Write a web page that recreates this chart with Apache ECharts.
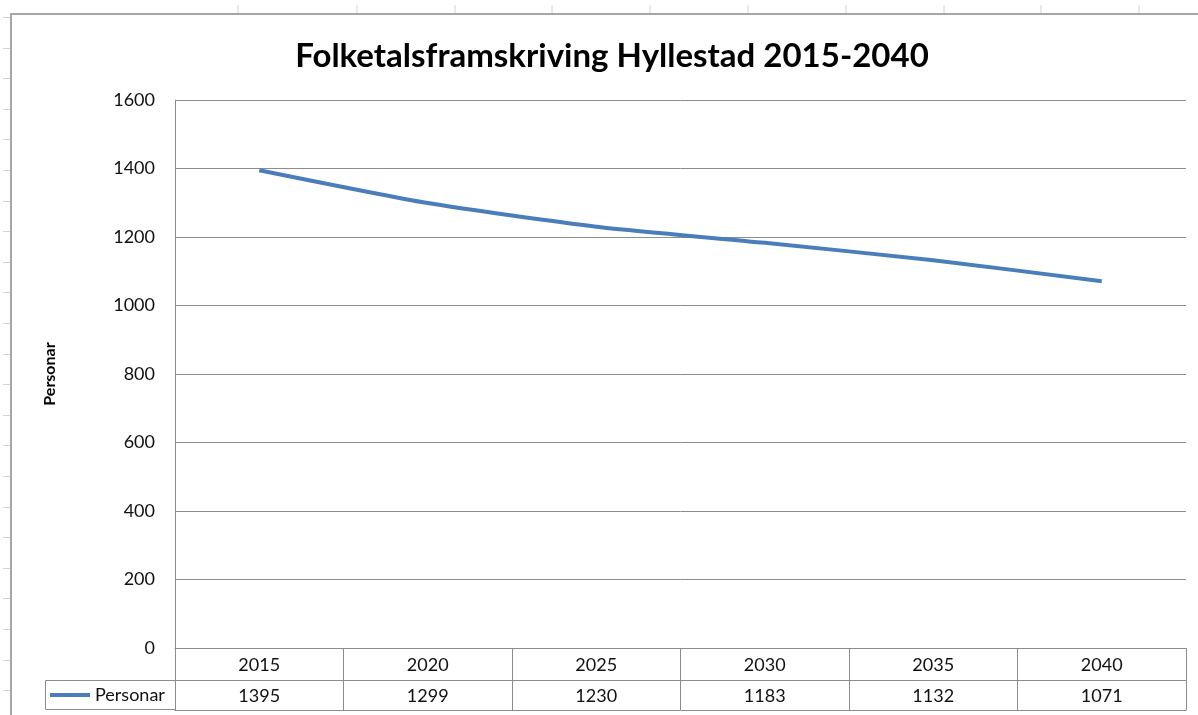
<!DOCTYPE html>
<html>
<head>
<meta charset="utf-8">
<title>Folketalsframskriving Hyllestad</title>
<script src="https://cdn.jsdelivr.net/npm/echarts@6/dist/echarts.min.js"></script>
<style>
  html, body { margin: 0; padding: 0; background: #fff; }
  #chart { width: 1198px; height: 715px; }
</style>
</head>
<body>
<div id="chart"></div>
<script>
// data
var years = ['2015', '2020', '2025', '2030', '2035', '2040'];
var personar = [1395, 1299, 1230, 1183, 1132, 1071];
var yTicks = { min: 0, max: 1600, step: 200 };

// spreadsheet cell marks around the chart frame (decoration only)
var colMarks = [238, 357, 455, 552, 650, 748, 846, 944, 1041, 1139];

var FONT = 'Lato, "Open Sans", sans-serif';
var GRID = '#8c8c8c';
var LINE = '#4a7ebb';

var myChart = echarts.init(document.getElementById('chart'));

var deco = [];
colMarks.forEach(function (x) {
    deco.push({ type: 'line', shape: { x1: x, y1: 5, x2: x, y2: 14 }, style: { stroke: '#d4d4d4', lineWidth: 1 } });
});
for (var k = 0; k < 23; k++) {
    var y = Math.round(17 + k * 30.6) + 0.5;
    deco.push({ type: 'line', shape: { x1: 3, y1: y, x2: 11, y2: y }, style: { stroke: '#d4d4d4', lineWidth: 1 } });
}
// outer chart frame
deco.push({ type: 'rect', shape: { x: 11, y: 14, width: 1400, height: 900 }, style: { fill: null, stroke: '#a6a6a6', lineWidth: 2 } });
// legend cell of the data table
deco.push({ type: 'polyline', shape: { points: [[175, 680.5], [45.5, 680.5], [45.5, 709.5], [175, 709.5]] }, style: { fill: null, stroke: GRID, lineWidth: 1 } });

var option = {
    backgroundColor: '#fff',
    title: {
        text: 'Folketalsframskriving Hyllestad 2015-2040',
        left: 607,
        top: 35,
        textAlign: 'center',
        textStyle: { fontFamily: FONT, fontSize: 33, fontWeight: 'bold', color: '#000' }
    },
    legend: {
        data: ['Personar'],
        left: 50,
        top: 686,
        padding: 0,
        icon: 'rect',
        itemWidth: 40,
        itemHeight: 4,
        itemGap: 7,
        textStyle: { fontFamily: FONT, fontSize: 18, color: '#111' }
    },
    grid: { left: 175, right: 12, top: 100, bottom: 67, containLabel: false },
    xAxis: [
        {
            type: 'category',
            data: years,
            boundaryGap: true,
            axisLine: { show: true, lineStyle: { color: GRID, width: 1 } },
            axisTick: { show: true, length: 62, interval: 0, lineStyle: { color: GRID } },
            axisLabel: { margin: 8, interval: 0, fontFamily: FONT, fontSize: 18, color: '#111' }
        },
        {
            type: 'category',
            data: personar.map(String),
            position: 'bottom',
            offset: 32,
            axisLine: { show: true, lineStyle: { color: GRID, width: 1 } },
            axisTick: { show: false },
            axisLabel: { margin: 7, interval: 0, fontFamily: FONT, fontSize: 18, color: '#111' }
        },
        {
            type: 'category',
            data: years,
            position: 'bottom',
            offset: 62,
            axisLine: { show: true, lineStyle: { color: GRID, width: 1 } },
            axisTick: { show: false },
            axisLabel: { show: false }
        }
    ],
    yAxis: {
        type: 'value',
        min: yTicks.min,
        max: yTicks.max,
        interval: yTicks.step,
        name: 'Personar',
        nameLocation: 'middle',
        nameGap: 117,
        nameRotate: 90,
        nameTextStyle: { fontFamily: FONT, fontSize: 16, fontWeight: 'bold', color: '#000' },
        axisLine: { show: true, lineStyle: { color: GRID, width: 1 } },
        axisTick: { show: false },
        splitLine: { show: true, lineStyle: { color: GRID, width: 1 } },
        axisLabel: {
            margin: 20, fontFamily: FONT, fontSize: 18, color: '#111',
            formatter: function (v) { return String(v); }
        }
    },
    series: [
        {
            name: 'Personar',
            type: 'line',
            data: personar,
            xAxisIndex: 0,
            symbol: 'none',
            smooth: 0.2,
            lineStyle: { color: LINE, width: 4 },
            itemStyle: { color: LINE }
        }
    ],
    graphic: deco,
    animation: false
};

myChart.setOption(option);
window.addEventListener('resize', function () {
    myChart.resize();
});
</script>
</body>
</html>
